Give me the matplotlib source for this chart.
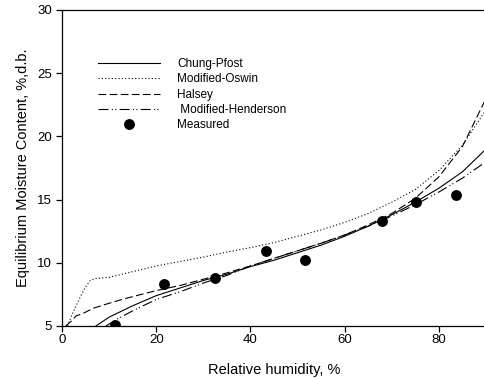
import matplotlib
matplotlib.use("Agg")
import matplotlib.pyplot as plt

plt.rcParams['font.family'] = ['Liberation Sans', 'DejaVu Sans']

# measured points
rh_meas = [11.3, 21.6, 32.4, 43.2, 51.5, 68.0, 75.2, 83.6]
emc_meas = [5.1, 8.3, 8.8, 10.9, 10.2, 13.3, 14.8, 15.4]

# model curves
rh_chung = [7.2, 10, 15, 20, 25, 30, 35, 40, 45, 50, 55, 60, 65, 70, 75, 80, 85, 90]
emc_chung = [5.0, 5.7, 6.6, 7.4, 8.0, 8.6, 9.1, 9.7, 10.2, 10.8, 11.4, 12.1, 12.9, 13.8, 14.8, 15.9, 17.2, 19.0]

rh_oswin = [1.2, 2, 3, 4, 5, 6, 7, 10, 15, 20, 25, 30, 35, 40, 45, 50, 55, 60, 65, 70, 75, 80, 85, 90]
emc_oswin = [5.0, 5.8, 6.6, 7.4, 8.1, 8.6, 8.75, 8.85, 9.3, 9.75, 10.1, 10.45, 10.85, 11.2, 11.6, 12.1,
             12.6, 13.2, 13.9, 14.8, 15.8, 17.3, 19.3, 22.1]

rh_halsey = [0.8, 2, 3, 4.5, 6.6, 10, 13.7, 20, 25, 30, 35, 40, 45, 50, 55, 60, 65, 70, 75, 80, 85, 90]
emc_halsey = [5.0, 5.4, 5.8, 6.0, 6.4, 6.8, 7.2, 7.8, 8.2, 8.7, 9.2, 9.75, 10.35, 10.95, 11.55, 12.2,
              13.0, 13.9, 15.1, 16.8, 19.2, 23.0]

rh_hend = [9.3, 12, 15, 20, 25, 30, 35, 40, 45, 50, 55, 60, 65, 70, 75, 80, 85, 90]
emc_hend = [5.0, 5.6, 6.2, 7.1, 7.7, 8.4, 9.0, 9.75, 10.35, 10.95, 11.55, 12.2, 12.9, 13.7, 14.6, 15.6, 16.7, 18.0]

fig = plt.figure(figsize=(4.85, 3.79), dpi=100)
ax = fig.add_axes([62 / 485, 1 - 326 / 379, 424 / 485, 316 / 379])

lw = 0.8
ax.plot(rh_chung, emc_chung, color='black', lw=lw, ls='-', label='Chung-Pfost')
ax.plot(rh_oswin, emc_oswin, color='black', lw=lw, ls=(0, (1, 2)), label='Modified-Oswin')
ax.plot(rh_halsey, emc_halsey, color='black', lw=lw, ls=(0, (7, 3)), label='Halsey')
ax.plot(rh_hend, emc_hend, color='black', lw=lw, ls=(0, (9, 3, 1, 2, 1, 3)), label=' Modified-Henderson')
ax.plot(rh_meas, emc_meas, 'o', color='black', ms=6.8, ls='none', label='Measured')

ax.set_xlim(0, 90)
ax.set_ylim(5, 30)
ax.set_xticks([0, 20, 40, 60, 80])
ax.set_yticks([5, 10, 15, 20, 25, 30])
ax.spines['right'].set_visible(False)
for s in ['left', 'bottom', 'top']:
    ax.spines[s].set_linewidth(0.9)
ax.tick_params(direction='out', length=4.5, width=0.9, labelsize=9.5)
ax.tick_params(axis='x', pad=1.5)
ax.tick_params(axis='y', pad=2.5)
ax.set_xlabel('Relative humidity, %', fontsize=10.5, labelpad=12)
ax.set_ylabel('Equilibrium Moisture Content, %,d.b.', fontsize=10.5, labelpad=5)

ax.legend(loc='upper left', bbox_to_anchor=(0.085, 0.848), frameon=False, fontsize=8.5,
          handlelength=5.25, handletextpad=1.44, labelspacing=0.28, borderpad=0, borderaxespad=0)

fig.savefig('out.png', dpi=100)
